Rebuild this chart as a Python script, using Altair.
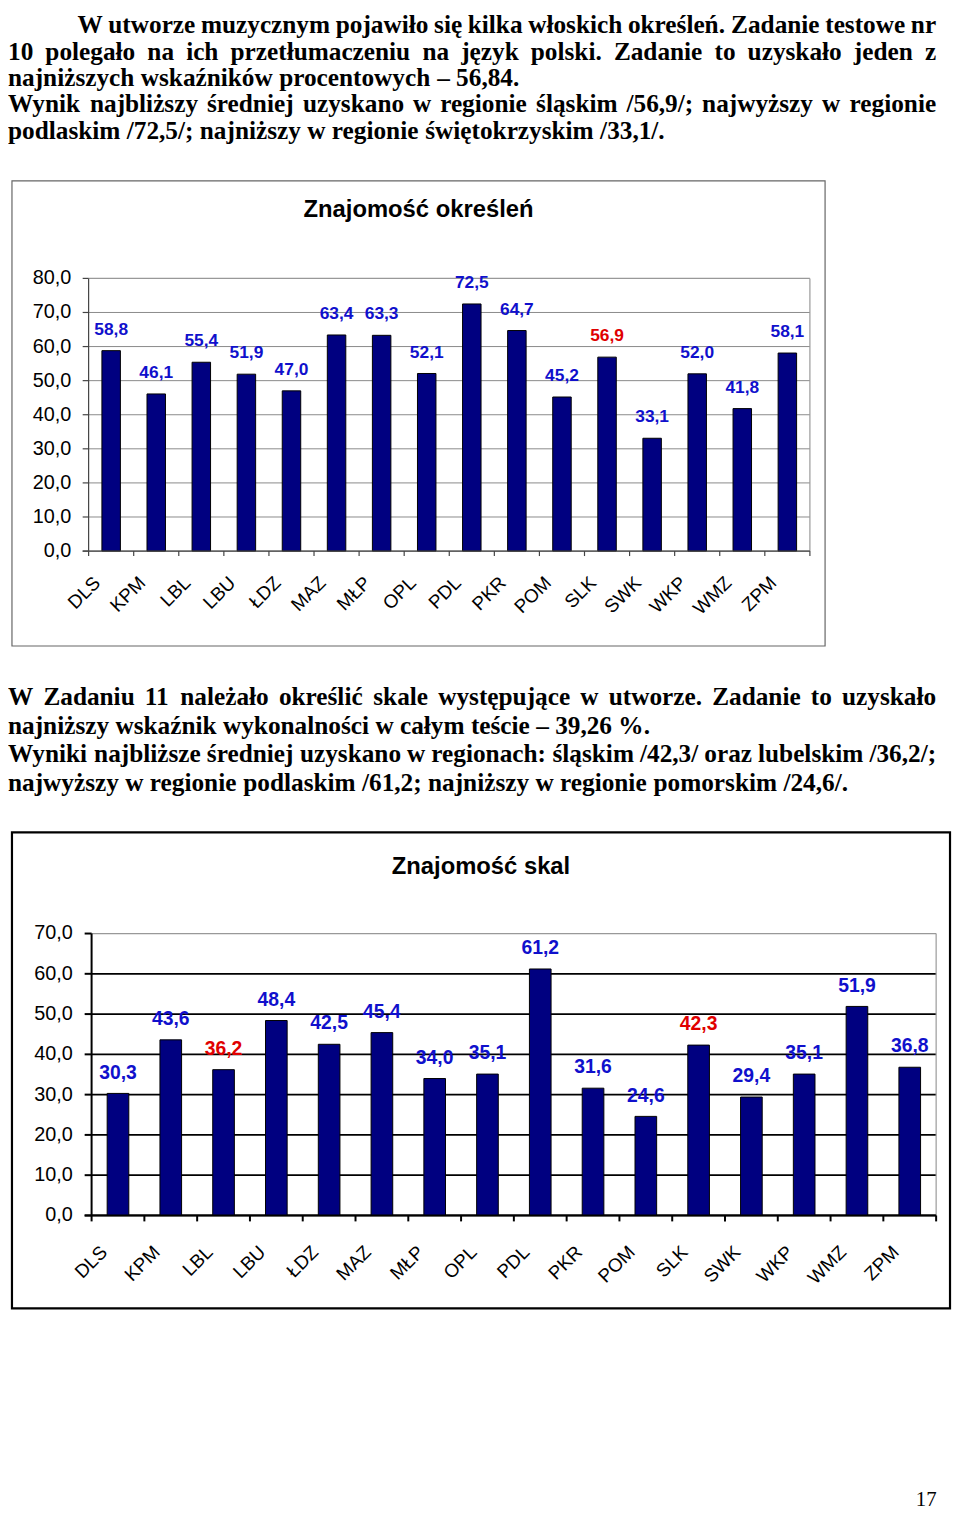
import altair as alt
import pandas as pd

# ---------------- data ----------------
cats = ["DLS", "KPM", "LBL", "LBU", "ŁDZ", "MAZ", "MŁP", "OPL",
        "PDL", "PKR", "POM", "SLK", "SWK", "WKP", "WMZ", "ZPM"]
vals1 = [58.8, 46.1, 55.4, 51.9, 47.0, 63.4, 63.3, 52.1,
         72.5, 64.7, 45.2, 56.9, 33.1, 52.0, 41.8, 58.1]
hl1 = ["SLK"]
vals2 = [30.3, 43.6, 36.2, 48.4, 42.5, 45.4, 34.0, 35.1,
         61.2, 31.6, 24.6, 42.3, 29.4, 35.1, 51.9, 36.8]
hl2 = ["LBL", "SLK"]
ticks1 = [0, 10, 20, 30, 40, 50, 60, 70, 80]
ticks2 = [0, 10, 20, 30, 40, 50, 60, 70]
title1 = "Znajomość określeń"
title2 = "Znajomość skal"

p1_lines = [
    "W utworze muzycznym pojawiło się kilka włoskich określeń. Zadanie testowe nr",
    "10 polegało na ich przetłumaczeniu na język polski. Zadanie to uzyskało jeden z",
    "najniższych wskaźników procentowych – 56,84.",
    "Wynik najbliższy średniej uzyskano w regionie śląskim /56,9/; najwyższy w regionie",
    "podlaskim /72,5/; najniższy w regionie świętokrzyskim /33,1/.",
]
p1_just = [True, True, False, True, False]
p2_lines = [
    "W Zadaniu 11 należało określić skale występujące w utworze. Zadanie to uzyskało",
    "najniższy wskaźnik wykonalności w całym teście – 39,26 %.",
    "Wyniki najbliższe średniej uzyskano w regionach: śląskim /42,3/ oraz lubelskim /36,2/;",
    "najwyższy w regionie podlaskim /61,2; najniższy w regionie pomorskim /24,6/.",
]
p2_just = [True, False, True, False]
page_no = "17"

# ---------------- layout (canvas px = page px - 8) ----------------
BODY_FS = 25.5
TEXT_L, TEXT_R = 0, 936
P1_BASE = [19, 46, 72.5, 99, 126]
P1_INDENT = 70
P2_BASE = [697, 726, 754.5, 783.5]

# Times New Roman Bold advance widths (per 1000 em)
TW = {c: 500 for c in "abcdefghijklmnopqrstuvwxyz"}
TW.update({"a": 500, "b": 556, "c": 444, "d": 556, "e": 444, "f": 333, "g": 500,
           "h": 556, "i": 278, "j": 333, "k": 556, "l": 278, "m": 833, "n": 556,
           "o": 500, "p": 556, "q": 556, "r": 444, "s": 389, "t": 333, "u": 556,
           "v": 500, "w": 722, "x": 500, "y": 500, "z": 444,
           "ą": 500, "ć": 444, "ę": 444, "ł": 278, "ń": 556, "ó": 500, "ś": 389,
           "ź": 444, "ż": 444, "W": 1000, "Z": 667, " ": 250, ".": 250, ",": 250,
           "/": 278, ";": 333, ":": 333, "–": 500, "%": 1000})


def tw(s, fs):
    return sum(TW.get(ch, 500) for ch in s) * fs / 1000.0


def layout(lines, just, bases, indent_first):
    rows = []
    for i, (ln, j) in enumerate(zip(lines, just)):
        left = TEXT_L + (indent_first if (i == 0 and indent_first) else 0)
        words = ln.split(" ")
        if j and len(words) > 1:
            total = sum(tw(w, BODY_FS) for w in words)
            gap = (TEXT_R - left - total) / (len(words) - 1)
        else:
            gap = tw(" ", BODY_FS)
        x = left
        for k, w in enumerate(words):
            last = j and k == len(words) - 1
            rows.append({"w": w, "x": TEXT_R if last else x, "y": bases[i],
                         "right": 1 if last else 0})
            x += tw(w, BODY_FS) + gap
    return rows


words = pd.DataFrame(layout(p1_lines, p1_just, P1_BASE, P1_INDENT)
                     + layout(p2_lines, p2_just, P2_BASE, 0))

one = pd.DataFrame({"a": [0]})
BLUE = "#1010cc"
RED = "#e00000"
SANS = "Liberation Sans"

layers = []

for side, al in ((0, "left"), (1, "right")):
    layers.append(
        alt.Chart(words).transform_filter(alt.datum.right == side)
        .mark_text(font="Liberation Serif", fontWeight="bold", fontSize=BODY_FS,
                   align=al, baseline="alphabetic", color="black")
        .encode(x=alt.X("x:Q", scale=None), y=alt.Y("y:Q", scale=None), text="w:N")
    )
layers.append(
    alt.Chart(one).mark_text(font="Liberation Serif", fontSize=21, align="center",
                             baseline="alphabetic", color="black")
    .encode(x=alt.value(926), y=alt.value(1504), text=alt.value(page_no))
)


def bar_panel(vals, hl, ticks, ymax, title, frame, title_xy, x0, x1, ytop, ybot,
              grid_color, grid_w, axis_color, axis_w, frame_color, frame_w,
              val_fs, xlab_dy, ylab_dx, tick_len_l, tick_len_b):
    out = []
    df = pd.DataFrame({"cat": cats, "value": vals,
                       "hl": [1 if c in hl else 0 for c in cats]})
    tdf = pd.DataFrame({"v": ticks})
    xs = alt.Scale(domain=cats, range=[x0, x1], paddingInner=0.59, paddingOuter=0.295)
    ys = alt.Scale(domain=[0, ymax], range=[ybot, ytop])
    X = alt.X("cat:N", scale=xs, axis=None, sort=cats)
    step = (x1 - x0) / len(cats)

    # frame
    out.append(alt.Chart(one).mark_rect(fillOpacity=0, stroke=frame_color, strokeWidth=frame_w)
               .encode(x=alt.value(frame[0]), x2=alt.value(frame[2]),
                       y=alt.value(frame[1]), y2=alt.value(frame[3])))
    # title
    out.append(alt.Chart(one).mark_text(font=SANS, fontWeight="bold", fontSize=24,
                                        align="center", baseline="alphabetic", color="black")
               .encode(x=alt.value(title_xy[0]), y=alt.value(title_xy[1]), text=alt.value(title)))
    # gridlines (all but top)
    out.append(alt.Chart(tdf).transform_filter(alt.datum.v < ymax)
               .mark_rule(color=grid_color, strokeWidth=grid_w)
               .encode(y=alt.Y("v:Q", scale=ys, axis=None), x=alt.value(x0), x2=alt.value(x1)))
    # top and right border of plot
    out.append(alt.Chart(tdf).transform_filter(alt.datum.v == ymax)
               .mark_rule(color="#999999", strokeWidth=1.2)
               .encode(y=alt.Y("v:Q", scale=ys, axis=None), x=alt.value(x0), x2=alt.value(x1)))
    out.append(alt.Chart(one).mark_rule(color="#999999", strokeWidth=1.2)
               .encode(x=alt.value(x1), y=alt.value(ytop), y2=alt.value(ybot)))
    # bars
    out.append(alt.Chart(df).mark_bar(color="#000080", stroke="black", strokeWidth=1)
               .encode(x=X, y=alt.Y("value:Q", scale=ys, axis=None)))
    # axis lines
    out.append(alt.Chart(one).mark_rule(color=axis_color, strokeWidth=axis_w)
               .encode(x=alt.value(x0), y=alt.value(ytop), y2=alt.value(ybot)))
    out.append(alt.Chart(one).mark_rule(color=axis_color, strokeWidth=axis_w)
               .encode(y=alt.value(ybot), x=alt.value(x0 - tick_len_l), x2=alt.value(x1)))
    # y ticks & labels
    out.append(alt.Chart(tdf).mark_rule(color=axis_color, strokeWidth=axis_w)
               .encode(y=alt.Y("v:Q", scale=ys, axis=None),
                       x=alt.value(x0 - tick_len_l), x2=alt.value(x0)))
    out.append(alt.Chart(tdf)
               .transform_calculate(lab="replace(format(datum.v, '.1f'), '.', ',')")
               .mark_text(font=SANS, fontSize=20, align="right", baseline="middle", color="black")
               .encode(y=alt.Y("v:Q", scale=ys, axis=None), x=alt.value(x0 - ylab_dx),
                       text="lab:N"))
    # x ticks (band boundaries)
    out.append(alt.Chart(df).mark_rule(color=axis_color, strokeWidth=axis_w, xOffset=-step / 2)
               .encode(x=X, y=alt.value(ybot), y2=alt.value(ybot + tick_len_b)))
    out.append(alt.Chart(one).mark_rule(color=axis_color, strokeWidth=axis_w)
               .encode(x=alt.value(x1), y=alt.value(ybot), y2=alt.value(ybot + tick_len_b)))
    # x labels
    out.append(alt.Chart(df).mark_text(font=SANS, fontSize=19, angle=315, align="right",
                                       baseline="middle", color="black", xOffset=-14)
               .encode(x=X, y=alt.value(ybot + xlab_dy), text="cat:N"))
    # value labels
    out.append(alt.Chart(df)
               .transform_calculate(lab="replace(format(datum.value, '.1f'), '.', ',')")
               .mark_text(font=SANS, fontWeight="bold", fontSize=val_fs, align="center",
                          baseline="middle", yOffset=-21)
               .encode(x=X, y=alt.Y("value:Q", scale=ys, axis=None), text="lab:N",
                       color=alt.condition(alt.datum.hl == 1, alt.value(RED), alt.value(BLUE))))
    return out


layers += bar_panel(vals1, hl1, ticks1, 80, title1, (4, 168, 824, 637), (414, 204),
                    81.3, 808.7, 266.3, 541.3, "#8a8a8a", 1, "#444444", 1.2, "#666666", 1.2,
                    17.5, 29, 17.5, 6, 5)
layers += bar_panel(vals2, hl2, ticks2, 70, title2, (4, 825, 950, 1305), (477, 867),
                    84.3, 936, 927, 1211.3, "#000000", 1.8, "#000000", 2, "#000000", 2.2,
                    19.5, 34, 19, 7, 6)

chart = (alt.layer(*layers)
         .resolve_scale(x="independent", y="independent")
         .properties(width=952, height=1506, autosize=alt.AutoSizeParams(type="none"), padding=0)
         .configure_view(stroke=None))

chart.save("out.html", embed_options={"renderer": "svg", "actions": False})
